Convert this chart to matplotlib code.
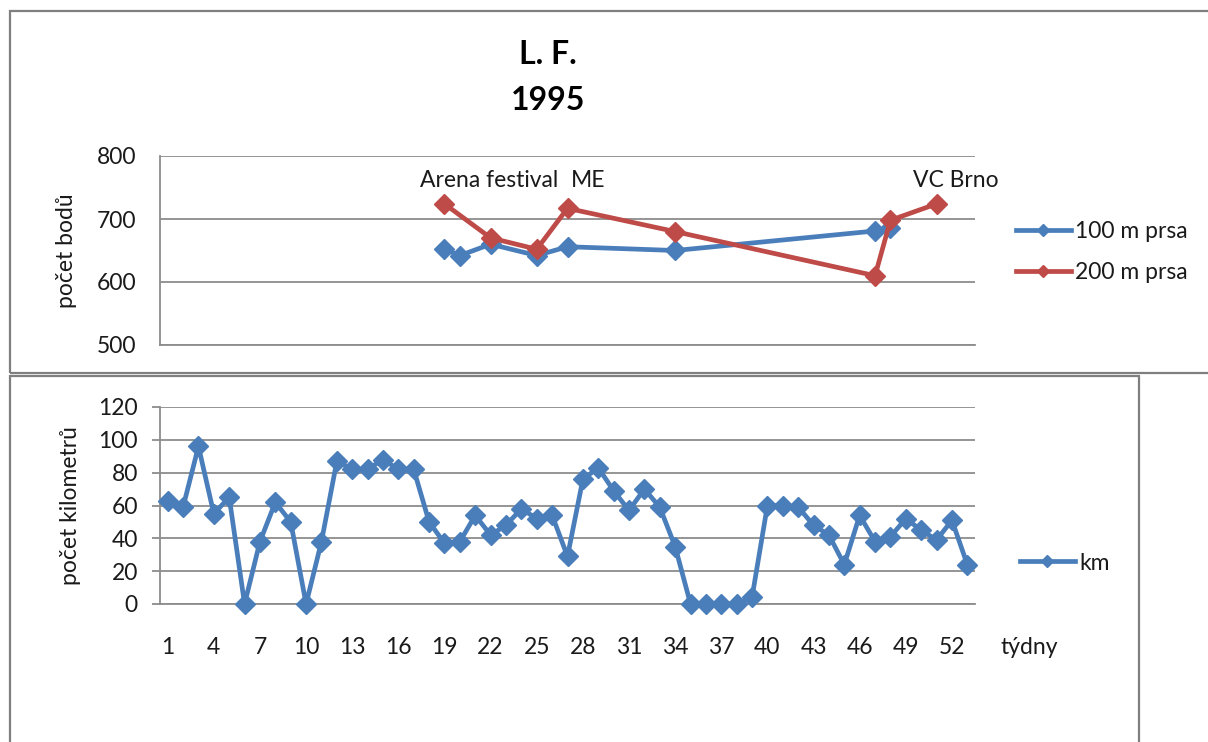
import matplotlib
matplotlib.use("Agg")
import matplotlib.pyplot as plt
from matplotlib.patches import Rectangle

plt.rcParams['font.family'] = ['Lato', 'DejaVu Sans']

# Weekly training volume (km) for weeks 1..53
weeks = list(range(1, 54))
km = [63, 59, 96, 55, 65, 0, 38, 62, 50, 0,
      38, 87, 82, 82, 88, 82, 82, 50, 37, 38,
      54, 42, 48, 58, 52, 54, 29, 76, 83, 69,
      57, 70, 59, 35, 0, 0, 0, 0, 4, 60,
      60, 59, 48, 42, 24, 54, 38, 41, 52, 45,
      39, 51, 24]

# Competition points
weeks_100 = [19, 20, 22, 25, 27, 34, 47, 48]
points_100 = [652, 642, 660, 642, 656, 650, 681, 686]
weeks_200 = [19, 22, 25, 27, 34, 47, 48, 51]
points_200 = [724, 670, 652, 717, 680, 610, 698, 724]

# Named competitions on the 200 m series
events = ["Arena festival", "ME", "VC Brno"]
event_weeks = [19, 27, 51]

x_tick_weeks = weeks[::3]

BLUE = '#4a7ebb'
RED = '#be4b48'
GRID = '#8c8c8c'
TXT = '#1a1a1a'
FS = 16.5

W, H = 1208, 742
fig = plt.figure(figsize=(W / 100, H / 100), dpi=100)

def fx(px):
    return px / W

def fy(py):
    return 1 - py / H

# Outer frames of the two charts
fig.patches.append(Rectangle((fx(10), fy(373)), fx(1215) - fx(10), fy(11) - fy(373),
                             transform=fig.transFigure, fill=False, edgecolor='#7f7f7f', lw=1.6))
fig.patches.append(Rectangle((fx(10), fy(750)), fx(1139) - fx(10), fy(376) - fy(750),
                             transform=fig.transFigure, fill=False, edgecolor='#7f7f7f', lw=1.6))

line_kw = dict(lw=3.4, marker='D', markersize=10, solid_joinstyle='round', clip_on=False, zorder=3)

# ---- Top chart: points ----
ax1 = fig.add_axes([fx(160), fy(345), fx(975) - fx(160), fy(156) - fy(345)])
ax1.plot(weeks_100, points_100, color=BLUE, label='100 m prsa', **line_kw)
ax1.plot(weeks_200, points_200, color=RED, label='200 m prsa', **line_kw)
ax1.set_xlim(0.5, 53.5)
ax1.set_ylim(500, 800)
ax1.set_yticks([500, 600, 700, 800])
ax1.set_xticks([])
ax1.grid(axis='y', color=GRID, lw=1.3)
ax1.set_axisbelow(True)
for s in ['top', 'right']:
    ax1.spines[s].set_visible(False)
for s in ['left', 'bottom']:
    ax1.spines[s].set_color(GRID)
    ax1.spines[s].set_linewidth(1.3)
ax1.tick_params(axis='y', length=0, pad=17, labelsize=FS, labelcolor=TXT)
ax1.set_ylabel('počet bodů', fontsize=FS, color=TXT, labelpad=14)

offsets = {"Arena festival": (32, 17), "ME": (15, 20), "VC Brno": (14, 17)}
for name, wk in zip(events, event_weeks):
    val = points_200[weeks_200.index(wk)]
    ax1.annotate(name, xy=(wk, val), xytext=offsets[name], textcoords='offset points',
                 ha='center', va='center', fontsize=FS, color=TXT)

fig.text(fx(548), fy(55), 'L. F.', ha='center', va='center', fontsize=23, fontweight='bold', color='black')
fig.text(fx(548), fy(100), '1995', ha='center', va='center', fontsize=23, fontweight='bold', color='black')

ax1.legend(loc='center left', bbox_to_anchor=(fx(995), fy(252)), bbox_transform=fig.transFigure,
           frameon=False, fontsize=FS, handlelength=2.4, handletextpad=0.2, labelspacing=0.9,
           markerscale=0.6, labelcolor=TXT)

# ---- Bottom chart: km ----
ax2 = fig.add_axes([fx(160), fy(604), fx(975) - fx(160), fy(407) - fy(604)])
ax2.plot(weeks, km, color=BLUE, label='km', **line_kw)
ax2.set_xlim(0.5, 53.5)
ax2.set_ylim(0, 120)
ax2.set_yticks(range(0, 121, 20))
ax2.set_xticks(x_tick_weeks)
ax2.grid(axis='y', color=GRID, lw=1.3)
ax2.set_axisbelow(True)
for s in ['top', 'right']:
    ax2.spines[s].set_visible(False)
for s in ['left', 'bottom']:
    ax2.spines[s].set_color(GRID)
    ax2.spines[s].set_linewidth(1.3)
ax2.tick_params(axis='y', length=6, color=GRID, width=1.3, pad=10, labelsize=FS, labelcolor=TXT)
ax2.tick_params(axis='x', length=0, pad=24, labelsize=FS, labelcolor=TXT)
ax2.set_ylabel('počet kilometrů', fontsize=FS, color=TXT, labelpad=12)
fig.text(fx(1029), fy(647), 'týdny', ha='center', va='center', fontsize=FS, color=TXT)
ax2.legend(loc='center left', bbox_to_anchor=(fx(999), fy(563)), bbox_transform=fig.transFigure,
           frameon=False, fontsize=FS, handlelength=2.4, handletextpad=0.2,
           markerscale=0.6, labelcolor=TXT)

fig.savefig('out.png', dpi=100, facecolor='white')
